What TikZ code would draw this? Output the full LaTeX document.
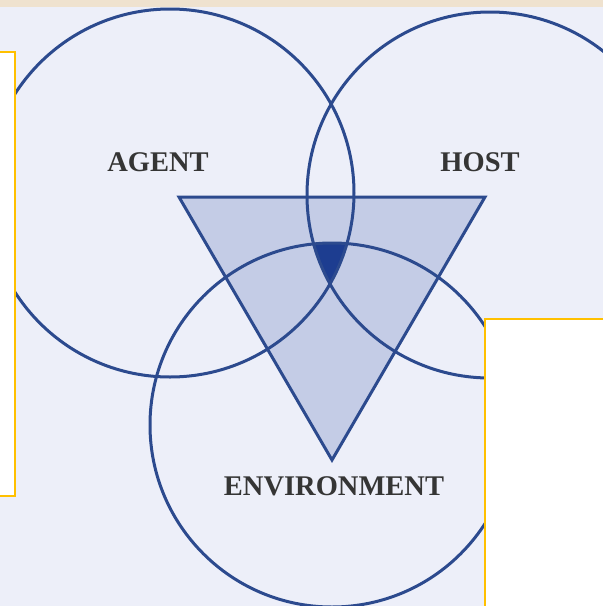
\documentclass[tikz,border=0pt]{standalone}
\usepackage{fontspec}
\setmainfont{Liberation Serif}
\definecolor{bg}{HTML}{EDEFF9}
\definecolor{paper}{HTML}{EFE2CF}
\definecolor{ln}{HTML}{2C4A8E}
\definecolor{tri}{HTML}{C4CCE6}
\definecolor{core}{HTML}{1D3D90}
\definecolor{txt}{HTML}{353535}
\definecolor{gold}{HTML}{FFC000}
\begin{document}
\begin{tikzpicture}[x=1pt,y=-1pt,
  ring/.style={circle, draw=ln, line width=3pt, inner sep=0pt, outer sep=0pt, minimum size=#1},
  lbl/.style={font=\bfseries\fontsize{28.5}{30}\selectfont, text=txt, inner sep=0pt},
  mask/.style={draw=gold, fill=white, line width=2.8pt}]
\useasboundingbox (0,0) rectangle (603,606);
\fill[bg] (0,0) rectangle (603,606);
\fill[paper] (0,0) rectangle (603,7);
\coordinate (tl) at (179,197);
\coordinate (tr) at (485,197);
\coordinate (tb) at (332,460);
\fill[tri] (tl) -- (tr) -- (tb) -- cycle;
\begin{scope}
  \clip (170,193) circle[radius=184pt];
  \clip (490,195) circle[radius=183pt];
  \fill[core] (332,425) circle[radius=182pt];
\end{scope}
\draw[ln, line width=3pt, line join=miter] (tl) -- (tr) -- (tb) -- cycle;
\node[ring=368pt] (agent) at (170,193) {};
\node[ring=366pt] (host) at (490,195) {};
\node[ring=364pt] (env) at (332,425) {};
\node[lbl] (agentlbl) at (158,162) {AGENT};
\node[lbl] (hostlbl) at (480,162) {HOST};
\node[lbl] (envlbl) at (334,486) {ENVIRONMENT};
\node[mask, minimum width=30pt, minimum height=444pt, inner sep=0pt] (maskl) at (0,274) {};
\node[mask, minimum width=130pt, minimum height=300pt, inner sep=0pt] (maskr) at (550,469) {};
\end{tikzpicture}
\end{document}
